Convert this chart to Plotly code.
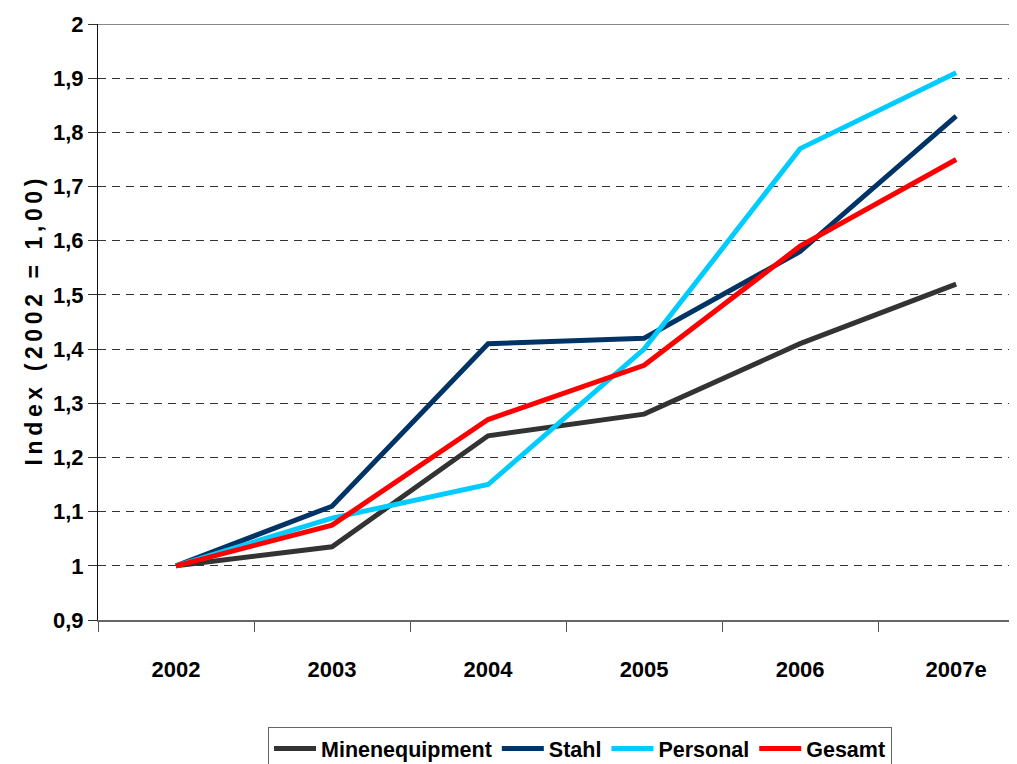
import plotly.graph_objects as go

years = ["2002", "2003", "2004", "2005", "2006", "2007e"]
minenequipment = [1.00, 1.035, 1.24, 1.28, 1.41, 1.52]
stahl = [1.00, 1.11, 1.41, 1.42, 1.58, 1.83]
personal = [1.00, 1.088, 1.15, 1.40, 1.77, 1.91]
gesamt = [1.00, 1.075, 1.27, 1.37, 1.59, 1.75]

series = [
    ("Minenequipment", minenequipment, "#333333"),
    ("Stahl", stahl, "#003366"),
    ("Personal", personal, "#00CCFF"),
    ("Gesamt", gesamt, "#FF0000"),
]

y_ticks = [0.9, 1.0, 1.1, 1.2, 1.3, 1.4, 1.5, 1.6, 1.7, 1.8, 1.9, 2.0]
y_ticktext = ["0,9", "1", "1,1", "1,2", "1,3", "1,4", "1,5", "1,6", "1,7", "1,8", "1,9", "2"]

FONT = "Liberation Sans, Arial, Helvetica, sans-serif"

fig = go.Figure()
for name, vals, color in series:
    fig.add_trace(go.Scatter(
        x=years, y=vals, name=name, mode="lines",
        line=dict(color=color, width=5),
    ))

title = "\u2009".join("Index (2002 = 1,00)")

fig.update_layout(
    width=1009, height=764,
    margin=dict(l=90, r=0, t=16, b=152),
    paper_bgcolor="white", plot_bgcolor="white",
    font=dict(family=FONT, color="black"),
    showlegend=True,
    legend=dict(
        orientation="h", x=0.5245, xanchor="center", y=-0.1795, yanchor="top",
        bordercolor="#666666", borderwidth=1,
        font=dict(family=FONT, size=21.5, color="black", weight="bold"),
        itemwidth=42, tracegroupgap=0,
    ),
    xaxis=dict(
        type="category", range=[-0.5, 5.39], automargin=False,
        tickson="boundaries", ticks="outside", ticklen=10, tickcolor="#555555",
        showline=True, linecolor="#666666", linewidth=2,
        showgrid=False, zeroline=False,
        tickfont=dict(family=FONT, size=22, color="black", weight="bold"),
        ticklabelstandoff=29,
    ),
    yaxis=dict(
        range=[0.9, 2.0], tickvals=y_ticks, ticktext=y_ticktext, automargin=False,
        ticks="outside", ticklen=9, tickcolor="#333333",
        showline=True, linecolor="#111111", linewidth=1,
        showgrid=True, gridcolor="#333333", griddash="8px,6px", gridwidth=1,
        zeroline=False,
        tickfont=dict(family=FONT, size=22, color="black", weight="bold"),
        title=dict(text=title, font=dict(family=FONT, size=23, color="black", weight="bold"), standoff=3),
    ),
    shapes=[dict(type="line", xref="paper", yref="y", x0=0, x1=1, y0=2.0, y1=2.0,
                 line=dict(color="#888888", width=2))],
)

fig.write_html("out.html")
